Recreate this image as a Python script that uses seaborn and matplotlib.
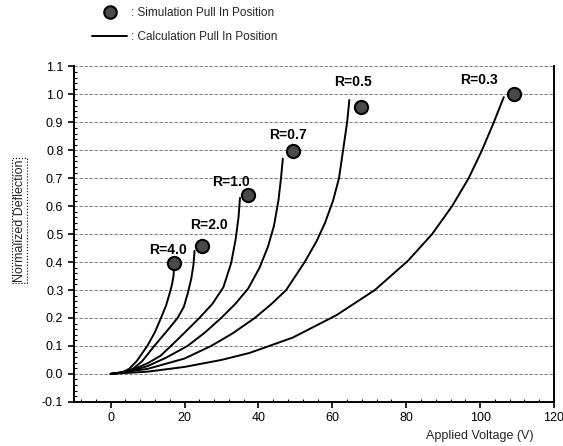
import matplotlib
matplotlib.use("Agg")
import matplotlib.pyplot as plt
from matplotlib.lines import Line2D
from matplotlib.ticker import MultipleLocator, FormatStrFormatter
import numpy as np
import pandas as pd
import seaborn as sns

# ---- data ----
ratio_labels = ["R=4.0", "R=2.0", "R=1.0", "R=0.7", "R=0.5", "R=0.3"]

calc_v_r40 = [0, 3, 5, 7, 9.9, 12, 13.6, 15.0, 16.0, 16.6, 17.0, 17.1]
calc_y_r40 = [0, 0.005, 0.018, 0.045, 0.1, 0.15, 0.2, 0.245, 0.29, 0.32, 0.35, 0.37]

calc_v_r20 = [0, 4, 6, 8.5, 11.8, 15, 18.1, 19.8, 20.9, 21.8, 22.4, 22.7]
calc_y_r20 = [0, 0.006, 0.018, 0.045, 0.1, 0.15, 0.2, 0.24, 0.29, 0.34, 0.39, 0.44]

calc_v_r10 = [0, 5, 10, 13.5, 16.3, 20.2, 24.0, 27.5, 30.5, 32.6, 33.8, 34.6, 35.0]
calc_y_r10 = [0, 0.01, 0.038, 0.065, 0.1, 0.15, 0.2, 0.25, 0.31, 0.396, 0.48, 0.56, 0.63]

calc_v_r07 = [0, 5, 10, 15, 20.8, 25.5, 29.9, 33.7, 37.2, 40.3, 42.6, 44.2, 45.4, 46.1, 46.6]
calc_y_r07 = [0, 0.008, 0.028, 0.058, 0.1, 0.148, 0.2, 0.25, 0.305, 0.38, 0.456, 0.53, 0.62, 0.7, 0.77]

calc_v_r05 = [0, 10, 20, 27.2, 33, 39.0, 43.5, 47.5, 52.5, 55.7, 58.0, 60.2, 61.8, 62.9, 64.0, 64.6]
calc_y_r05 = [0, 0.018, 0.055, 0.1, 0.145, 0.2, 0.25, 0.3, 0.4, 0.474, 0.54, 0.62, 0.7, 0.8, 0.9, 0.98]

calc_v_r03 = [0, 10, 20, 30, 37.6, 49.3, 61.1, 71.5, 80.5, 87.0, 92.4, 96.9, 100.5, 103.7, 106.4]
calc_y_r03 = [0, 0.008, 0.025, 0.05, 0.075, 0.13, 0.21, 0.3, 0.405, 0.5, 0.6, 0.7, 0.8, 0.9, 0.99]

sim_v = [17.2, 24.7, 37.1, 49.3, 67.7, 109.1]
sim_y = [0.396, 0.456, 0.64, 0.797, 0.956, 1.0]

label_v = [15.4, 26.7, 32.6, 48.0, 65.7, 99.6]
label_y = [0.443, 0.533, 0.688, 0.855, 1.045, 1.05]

x_ticks = [0, 20, 40, 60, 80, 100, 120]
y_ticks = [-0.1, 0.0, 0.1, 0.2, 0.3, 0.4, 0.5, 0.6, 0.7, 0.8, 0.9, 1.0, 1.1]

calc_v = [calc_v_r40, calc_v_r20, calc_v_r10, calc_v_r07, calc_v_r05, calc_v_r03]
calc_y = [calc_y_r40, calc_y_r20, calc_y_r10, calc_y_r07, calc_y_r05, calc_y_r03]

rows = []
for lab, vs, ys in zip(ratio_labels, calc_v, calc_y):
    for v, y in zip(vs, ys):
        rows.append({"R": lab, "V": v, "D": y})
calc_df = pd.DataFrame(rows)
sim_df = pd.DataFrame({"R": ratio_labels, "V": sim_v, "D": sim_y})

# ---- style ----
sns.set_style("ticks")
plt.rcParams["font.family"] = ["Liberation Sans", "DejaVu Sans"]

fig = plt.figure(figsize=(5.63, 4.46), dpi=100)
ax = fig.add_axes([0.131, 0.099, 0.853, 0.752])

for lab in ratio_labels:
    sub = calc_df[calc_df["R"] == lab]
    sns.lineplot(data=sub, x="V", y="D", color="black", lw=1.4, ax=ax,
                 sort=False, estimator=None, legend=False)

sns.scatterplot(data=sim_df, x="V", y="D", ax=ax, s=90, color="#4a4a4a",
                edgecolor="black", linewidth=1.5, zorder=5, legend=False)

for lab, lv, ly in zip(ratio_labels, label_v, label_y):
    ax.text(lv, ly, lab, ha="center", va="center", fontsize=10,
            fontweight="bold", color="black")

ax.set_xlim(-10, 120)
ax.set_ylim(-0.1, 1.1)
ax.set_xticks(x_ticks)
ax.set_yticks(y_ticks)
ax.yaxis.set_major_formatter(FormatStrFormatter("%.1f"))
ax.xaxis.set_minor_locator(MultipleLocator(4))
ax.yaxis.set_minor_locator(MultipleLocator(0.02))
ax.tick_params(axis="both", which="major", direction="out", length=4,
               width=1.2, labelsize=9, colors="black")
ax.tick_params(axis="both", which="minor", direction="in", length=2,
               width=0.8, colors="black")

ax.yaxis.grid(True, which="major", linestyle=(0, (4, 2)), color="#666666",
              linewidth=0.6)
ax.xaxis.grid(False)

for side in ["left", "bottom", "right"]:
    ax.spines[side].set_visible(True)
    ax.spines[side].set_linewidth(1.4)
    ax.spines[side].set_color("black")
ax.spines["top"].set_visible(False)

ax.set_xlabel("Applied Voltage (V)", fontsize=9)
ax.xaxis.set_label_coords(0.846, -0.085)
ax.set_ylabel("Normalized Deflection", fontsize=9,
              bbox=dict(boxstyle="square,pad=0.1", fc="none", ec="black",
                        ls=":", lw=0.8))
ax.yaxis.set_label_coords(-0.1, 0.54)

handles = [
    Line2D([], [], marker="o", ls="none", markersize=9,
           markerfacecolor="#4a4a4a", markeredgecolor="black",
           markeredgewidth=1.5),
    Line2D([], [], color="black", lw=1.4),
]
fig.legend(handles, [": Simulation Pull In Position",
                     ": Calculation Pull In Position"],
           loc="upper left", bbox_to_anchor=(0.155, 0.995), frameon=False,
           fontsize=8.5, handlelength=3, handletextpad=0.3,
           labelspacing=1.0, borderaxespad=0)

fig.savefig("out.png", dpi=100)
